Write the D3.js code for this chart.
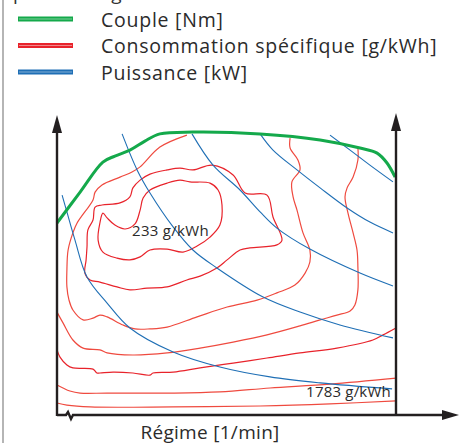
<!DOCTYPE html>
<html>
<head>
<meta charset="utf-8">
<script src="https://cdn.jsdelivr.net/npm/d3@7"></script>
<style>
  body { margin: 0; background: #fff; }
  svg { display: block; font-family: "Open Sans", sans-serif; }
</style>
</head>
<body>
<svg id="chart"></svg>
<script>
// legend
const legendLabels = ["Couple [Nm]", "Consommation spécifique [g/kWh]", "Puissance [kW]"];
const legendColors = ["#14a94b", "#e8232b", "#1f6fb5"];

// contour labels
const contourLabels = ["233 g/kWh", "1783 g/kWh"];

// full load torque curve  [speed %, load %]
const couple = [
  [0, 64], [7.7, 74.3], [15.3, 84.3], [19.3, 86.3], [24.3, 88.3], [29.3, 91.3],
  [34.3, 93.7], [45.3, 94.3], [67.7, 93.7], [87.7, 91.7], [101, 89],
  [106.7, 87.3], [110, 84], [112.7, 79.3]
];

// constant power lines
const puissance = [
  [[1.7, 73.3], [3.3, 67.7], [6, 58.3], [10, 46], [16.7, 37.3], [24.3, 29], [38.7, 21],
   [54.3, 16], [71, 12.7], [87.7, 10.7], [111.7, 8.7]],
  [[21.7, 93.7], [26.7, 81.7], [31, 74], [38.7, 62.7], [45.3, 55], [53.3, 49],
   [68.7, 39.3], [81, 34.3], [94.3, 30], [112, 25.7]],
  [[45, 93.7], [52, 83.3], [61, 75], [67.7, 67.7], [73.3, 62.3], [84.3, 55.3],
   [101, 47.3], [112, 43]],
  [[67.7, 93.7], [72, 88.3], [80, 81.7], [87.7, 75.7], [96.7, 69], [104.3, 64.3], [112, 60.7]],
  [[91, 93.3], [97.7, 88.3], [104.3, 83.3], [112, 77.7]]
];

// specific consumption contours (closed islands first)
const conso233 = [
  [15.3, 67.3], [14.3, 64], [13.7, 58.3], [15.3, 54.3], [20, 52.3], [24.3, 51.7],
  [27.7, 52.7], [31, 55], [36.7, 55.3], [42, 54.3], [46.7, 56.3], [51, 59.3],
  [54.3, 63.3], [55, 70], [53.7, 75], [51, 77.3], [44.3, 77.7], [41, 78.3],
  [36.7, 77.3], [31, 75], [28.7, 72.3], [27.7, 68.3], [26, 63.7], [22.7, 62],
  [19.3, 63.3], [16.7, 65.7]
];
const consoIlot2 = [
  [15, 70], [21, 70.7], [24.3, 72.7], [25.3, 75.7], [27.7, 78.3], [31, 80.3],
  [36.7, 81.7], [41, 82.3], [45.3, 81.7], [51.7, 83.3], [58.7, 80], [62.7, 74],
  [70, 73.3], [72, 66], [75, 58.3], [73.3, 56.7], [64.3, 55.7], [61, 55],
  [56.7, 51.7], [53.3, 49], [47.7, 46.3], [43.3, 45], [36.7, 42.7], [30, 42.3],
  [24.3, 41.7], [20, 42.7], [14.3, 44.3], [11, 45], [9.3, 47.3], [9.7, 51.7],
  [10, 56], [10.3, 61.7], [12, 65], [12.7, 69.3]
];
const conso3 = [
  [77.7, 92.3], [77.7, 89], [80.3, 85], [81, 81.7], [78.3, 77.7], [78.7, 72.7],
  [80, 68.3], [82, 60.7], [84.3, 55], [84.3, 51], [82.7, 47.3], [79.3, 43.3],
  [73.3, 40.7], [66.7, 38.3], [56.7, 36], [46.7, 32.7], [36.7, 29.3], [31, 28.7],
  [26, 28.7], [22, 30], [16.7, 32.7], [14.3, 33.3], [12, 32.3], [8.7, 31.7],
  [5.3, 35], [4, 38.3], [3.3, 42.7], [3.3, 48.3], [3.7, 55], [5.3, 60.7],
  [6.7, 64], [12, 71.7], [12.7, 74.3], [15, 76.7], [21, 79.3], [25, 81],
  [27.7, 82.7], [34.3, 89.3], [43.3, 93.3]
];
const conso4 = [
  [0, 34.3], [2, 30.7], [5.3, 25], [8.7, 22.3], [14.3, 21.7], [16.7, 20.7],
  [25.3, 20], [36.7, 20.7], [47.7, 22.3], [58.7, 24.3], [70, 26.7], [81, 29.7],
  [87.7, 31.7], [93.3, 33.3], [97.7, 34.7], [99.3, 36.7], [100.3, 41.7],
  [100.3, 49.3], [100, 55], [98.7, 60.7], [97, 67.3], [96, 72.7], [96.7, 75.7],
  [98.7, 79.3], [100.3, 85], [100.3, 89]
];
const conso5 = [
  [0, 21.7], [1, 19.3], [3.3, 16.7], [5.3, 15.7], [12, 15.3], [13.3, 14],
  [14.3, 14], [18.7, 14.3], [25.3, 14], [31, 13.3], [32, 14], [38.7, 14.3],
  [47.7, 15.7], [58.7, 17.3], [70, 19], [81, 20.7], [93.3, 22.3], [105.3, 25],
  [108.7, 26.7], [113, 29]
];
const conso6 = [
  [0, 10], [2, 9], [4.3, 8], [7.7, 7.3], [16.7, 7.3], [38.7, 7.3], [54.3, 7.7],
  [71, 9], [91, 10.3], [113, 12.3]
];
const conso1783 = [
  [0, 4], [3.3, 3.3], [11, 2.7], [38.7, 2.7], [67.7, 3], [91, 3.7], [113, 4.7]
];

const width = 473, height = 443;
const svg = d3.select("#chart").attr("width", width).attr("height", height);

const x = d3.scaleLinear().domain([0, 113]).range([57, 396]);
const y = d3.scaleLinear().domain([0, 100]).range([415, 115]);

const openLine = d3.line().x(d => x(d[0])).y(d => y(d[1])).curve(d3.curveCatmullRom.alpha(0.5));
const closedLine = d3.line().x(d => x(d[0])).y(d => y(d[1])).curve(d3.curveCatmullRomClosed.alpha(0.5));

// frame bits left over from the page
svg.append("line")
  .attr("x1", 3).attr("x2", 3).attr("y1", 0).attr("y2", height)
  .attr("stroke", "#9c9c9c").attr("stroke-width", 1.5);
svg.append("text")
  .attr("x", 13).attr("y", -0.5)
  .attr("font-size", 19).attr("fill", "#333")
  .text("pleine charge :");

// legend
const legend = svg.append("g");
legend.selectAll("line.outer")
  .data(legendLabels)
  .join("line")
  .attr("class", "outer")
  .attr("x1", 18).attr("x2", 73)
  .attr("y1", (_, i) => 19 + i * 26.5).attr("y2", (_, i) => 19 + i * 26.5)
  .attr("stroke", (_, i) => legendColors[i])
  .attr("stroke-width", 5);
legend.selectAll("line.inner")
  .data(legendLabels)
  .join("line")
  .attr("class", "inner")
  .attr("x1", 19).attr("x2", 72)
  .attr("y1", (_, i) => 19 + i * 26.5).attr("y2", (_, i) => 19 + i * 26.5)
  .attr("stroke", (_, i) => d3.interpolateRgb(legendColors[i], "#fff")(0.45))
  .attr("stroke-width", 1);
legend.selectAll("text")
  .data(legendLabels)
  .join("text")
  .attr("x", 101)
  .attr("y", (_, i) => 26.5 + i * 26.5)
  .attr("font-size", 19.5)
  .attr("letter-spacing", 0.75)
  .attr("fill", "#2b2b2b")
  .text(d => d);

// consumption contours
const plot = svg.append("g").attr("fill", "none");
plot.selectAll("path.closed")
  .data([conso233, consoIlot2])
  .join("path")
  .attr("class", "closed")
  .attr("d", closedLine)
  .attr("stroke", "#e8232b")
  .attr("stroke-width", 1.2);
plot.selectAll("path.open")
  .data([conso3, conso4, conso5, conso6, conso1783])
  .join("path")
  .attr("class", "open")
  .attr("d", openLine)
  .attr("stroke", (_, i) => i === 2 ? "#e8232b" : "#ef4a3f")
  .attr("stroke-width", 1.2);

// power lines
plot.selectAll("path.power")
  .data(puissance)
  .join("path")
  .attr("class", "power")
  .attr("d", openLine)
  .attr("stroke", "#1f6fb5")
  .attr("stroke-width", 1.1);

// torque curve
plot.append("path")
  .datum(couple)
  .attr("d", openLine)
  .attr("stroke", "#14a94b")
  .attr("stroke-width", 3);

// axes
const ax = svg.append("g").attr("stroke", "#231f20").attr("fill", "none").attr("stroke-width", 2.4);
const x0 = x(0), x1 = x(113), y0 = y(0), yTop = y(100), xEnd = x(134);
ax.append("line").attr("x1", x0).attr("x2", x0).attr("y1", y0 + 1).attr("y2", yTop + 14);
ax.append("line").attr("x1", x1).attr("x2", x1).attr("y1", y0 + 1).attr("y2", yTop + 14);
ax.append("path")
  .attr("d", `M${x0},${y0} H${x0 + 9} L${x0 + 11},${y0 - 3} L${x0 + 14},${y0 + 4} L${x0 + 16},${y0} H${xEnd - 14}`)
  .attr("stroke-linejoin", "miter");

const heads = svg.append("g").attr("fill", "#231f20");
heads.append("path").attr("d", `M${x0},${yTop} L${x0 - 5},${yTop + 18} L${x0 + 5},${yTop + 18} Z`);
heads.append("path").attr("d", `M${x1},${yTop - 2} L${x1 - 5},${yTop + 16} L${x1 + 5},${yTop + 16} Z`);
heads.append("path").attr("d", `M${xEnd},${y0} L${xEnd - 17},${y0 - 5} L${xEnd - 17},${y0 + 5} Z`);

// labels
svg.append("text")
  .attr("x", x(25)).attr("y", y(59.7))
  .attr("font-size", 15).attr("letter-spacing", 0.3).attr("fill", "#2b2b2b")
  .text(contourLabels[0]);
svg.append("text")
  .attr("x", x(111.3)).attr("y", y(6))
  .attr("text-anchor", "end")
  .attr("font-size", 15).attr("letter-spacing", 0.2).attr("fill", "#2b2b2b")
  .text(contourLabels[1]);

svg.append("text")
  .attr("x", 210).attr("y", 439)
  .attr("text-anchor", "middle")
  .attr("font-size", 19).attr("letter-spacing", 0.3).attr("fill", "#2b2b2b")
  .text("Régime [1/min]");
</script>
</body>
</html>
